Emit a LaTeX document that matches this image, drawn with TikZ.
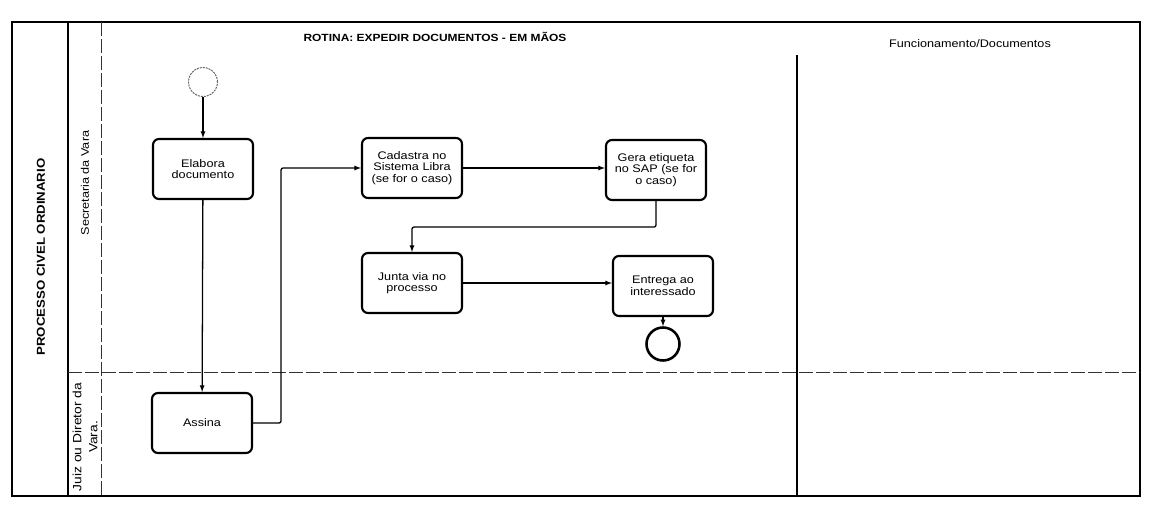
\documentclass[tikz,border=0pt]{standalone}
\usepackage{fontspec}
\setmainfont{Liberation Sans}[FakeStretch=1.15]
\usepackage{tikz}
\usetikzlibrary{arrows, calc}
\tikzstyle{task}=[draw=black, line width=0.75mm, rounded corners=6pt, minimum width=100pt,
  minimum height=60pt, align=center, font=\fontsize{11}{11.5}\selectfont]
\tikzstyle{startEvent}=[circle, draw=black!60, line width=0.35mm, dash pattern=on 2pt off 1pt,
  minimum size=29pt, inner sep=0pt]
\tikzstyle{endEvent}=[circle, draw=black, line width=0.9mm, minimum size=33pt, inner sep=0pt]
\tikzstyle{flow}=[-latex, draw=black, line width=0.45mm, rounded corners=2pt]
\tikzstyle{border}=[draw=black, line width=0.5mm]
\tikzstyle{laneLine}=[draw=black!80, line width=0.35mm, dash pattern=on 14pt off 3pt]

\begin{document}
\begin{tikzpicture}[x=1pt, y=-1pt]
      \useasboundingbox (0,0) rectangle (1151,507);

      \coordinate (poolNW) at (12,22);
      \coordinate (poolSE) at (1140,496);
      \coordinate (laneTop) at (68,22);
      \coordinate (laneBot) at (68,496);
      \coordinate (labelTop) at (101,22);
      \coordinate (labelBot) at (101,496);
      \coordinate (splitW) at (68,372);
      \coordinate (splitE) at (1140,372);
      \coordinate (colTop) at (797,55);
      \coordinate (colBot) at (797,496);

      \draw[border] (poolNW) rectangle (poolSE);
      \draw[border] (laneTop) -- (laneBot);
      \draw[laneLine] (labelTop) -- (labelBot);
      \draw[laneLine] (splitW) -- (splitE);
      \draw[border] (colTop) -- (colBot);

      \node[font=\bfseries\fontsize{10.4}{12}\selectfont] (rotina) at (435,37)
        {ROTINA: EXPEDIR DOCUMENTOS - EM MÃOS};
      \node[font=\fontsize{11}{12}\selectfont] (funcionamento) at (970,44)
        {Funcionamento/Documentos};
      \node[rotate=90, font=\bfseries\fontsize{11.5}{13}\selectfont] (pool) at (41,257)
        {PROCESSO CIVEL ORDINARIO};
      \node[rotate=90, font=\fontsize{11}{13}\selectfont] (secretaria) at (85,183)
        {Secretaria da Vara};
      \node[rotate=90, align=center, font=\fontsize{12}{16}\selectfont] (juiz) at (85,437)
        {Juiz ou Diretor da\\Vara.};

      \node[startEvent] (inicio) at (203,82) {};
      \node[task] (elabora) at (203,169) {Elabora\\documento};
      \node[task] (assina) at (202,423) {Assina};
      \node[task] (cadastra) at (412,168) {Cadastra no\\Sistema Libra\\(se for o caso)};
      \node[task] (gera) at (656,170) {Gera etiqueta\\no SAP (se for\\o caso)};
      \node[task] (junta) at (412,283) {Junta via no\\processo};
      \node[task] (entrega) at (663,286) {Entrega ao\\interessado};
      \node[endEvent] (fim) at (663,344) {};

      \draw[flow] (inicio) -- (elabora);
      \draw[flow] (elabora) -- (assina);
      \draw[flow] (assina.east) -- ++(28,0) |- (cadastra.west);
      \draw[flow] (cadastra.east) -- (cadastra.east -| gera.west);
      \draw[flow] (gera.south) -- ++(0,26) -| (junta.north);
      \draw[flow] (junta.east) -- (junta.east -| entrega.west);
      \draw[flow] (entrega) -- (fim);
    \end{tikzpicture}
\end{document}
